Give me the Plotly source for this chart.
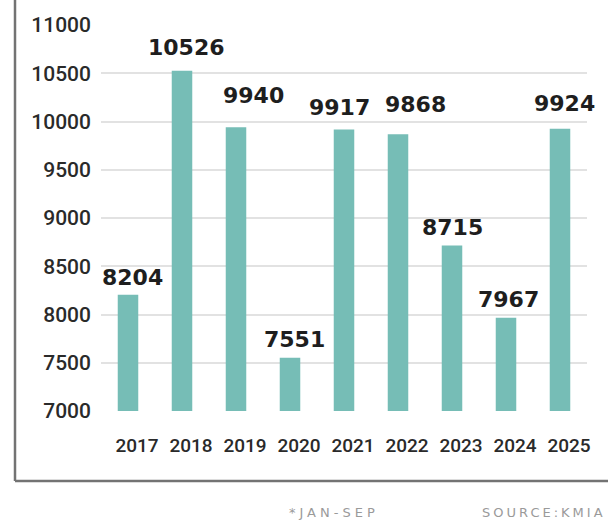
import plotly.graph_objects as go

# Annual registrations (2025 covers January to September)
years = ["2017", "2018", "2019", "2020", "2021", "2022", "2023", "2024", "2025"]
values = [8204, 10526, 9940, 7551, 9917, 9868, 8715, 7967, 9924]
y_ticks = [7000, 7500, 8000, 8500, 9000, 9500, 10000, 10500, 11000]

# Per-label nudges (px) for the value annotations above the bars
label_xshift = [4, 4, 17, 4, -5, 17, 0, 2, 4]
label_yshift = [17, 23, 32, 18, 22, 30, 18, 18, 25]

W, H = 608, 524
L, R, T, B = 101, 587, 25, 411  # plot area in pixels

BAR = "#76bdb6"
FRAME = "#737373"


def px_x(p):
    return (p - L) / (R - L)


def px_y(p):
    return (B - p) / (B - T)


fig = go.Figure(
    go.Bar(
        x=years,
        y=values,
        marker=dict(color=BAR, line=dict(width=0)),
        hoverinfo="skip",
    )
)

# Category positions are addressed by index so the year names are not read as numbers
for i, (v, dx, dy) in enumerate(zip(values, label_xshift, label_yshift)):
    fig.add_annotation(
        x=i, y=v, xref="x", yref="y",
        text=f"<b>{v}</b>",
        showarrow=False,
        xanchor="center", yanchor="middle",
        xshift=dx, yshift=dy,
        font=dict(family="DejaVu Sans", size=22, color="#1e1e1e"),
    )

# Footnote and source line under the frame
fig.add_annotation(
    x=px_x(334), y=px_y(512), xref="paper", yref="paper",
    text='<span style="letter-spacing:4px">*JAN-SEP</span>',
    showarrow=False, xanchor="center", yanchor="middle",
    font=dict(family="DejaVu Sans", size=13, color="#9a9a9a"),
)
fig.add_annotation(
    x=px_x(480), y=px_y(512), xref="paper", yref="paper",
    text='<span style="letter-spacing:3px">SOURCE:KMIA</span>',
    showarrow=False, xanchor="left", yanchor="middle",
    font=dict(family="DejaVu Sans", size=13, color="#9a9a9a"),
)

# Left and bottom frame lines
fig.add_shape(type="line", xref="paper", yref="paper",
              x0=px_x(15), x1=px_x(15), y0=px_y(-5), y1=px_y(481),
              line=dict(color=FRAME, width=2.5))
fig.add_shape(type="line", xref="paper", yref="paper",
              x0=px_x(15), x1=px_x(W + 10), y0=px_y(481), y1=px_y(481),
              line=dict(color=FRAME, width=2.5))

fig.update_layout(
    width=W, height=H,
    margin=dict(l=L, r=W - R, t=T, b=H - B, pad=0),
    paper_bgcolor="white",
    plot_bgcolor="white",
    bargap=0.62,
    showlegend=False,
    font=dict(family="Roboto", color="#333333"),
)

fig.update_xaxes(
    type="category",
    range=[-0.5, len(years) - 0.5],
    showgrid=False,
    showline=False,
    zeroline=False,
    ticks="",
    tickfont=dict(family="Roboto", size=19, color="#2a2a2a", weight=500),
    ticklabelstandoff=21,
    ticklabelshift=9,
)

fig.update_yaxes(
    range=[7000, 11000],
    tickvals=y_ticks,
    ticktext=[str(t) for t in y_ticks],
    showgrid=True,
    gridcolor="#e2e2e2",
    gridwidth=1.5,
    zeroline=False,
    showline=False,
    ticks="",
    tickfont=dict(family="Roboto", size=21, color="#2a2a2a", weight=500),
    ticklabelstandoff=9,
)

fig.write_html("out.html")
